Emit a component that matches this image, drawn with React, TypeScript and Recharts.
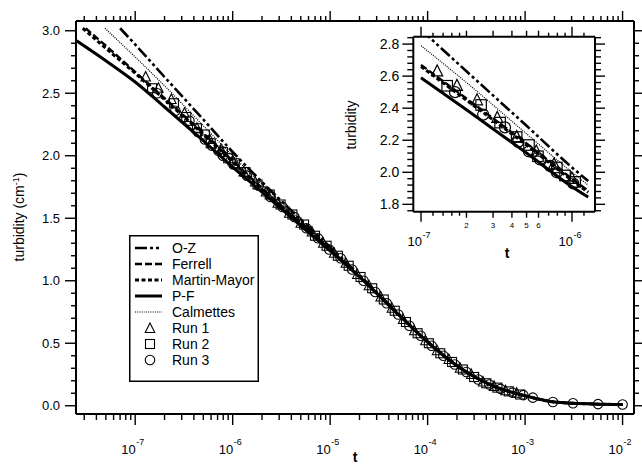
import React from 'react';
import { ComposedChart, Line, Scatter, XAxis, YAxis, Legend } from 'recharts';

const FONT = '"Liberation Sans", Arial, Helvetica, sans-serif';

// ---------------- theory curves (main plot) ----------------
const ozT = [7e-8, 1e-7, 2e-7, 5e-7, 1e-6, 2e-6, 5e-6, 1e-5, 2e-5, 5e-5, 1e-4, 2e-4, 5e-4, 1e-3, 2e-3, 5e-3, 1e-2];
const ozY = [3.02, 2.89, 2.63, 2.29, 2.03, 1.79, 1.49, 1.27, 1.045, 0.74, 0.51, 0.32, 0.15, 0.08, 0.03, 0.014, 0.01];

const ferrellT = [3.1e-8, 5e-8, 1e-7, 2e-7, 5e-7, 1e-6, 2e-6, 5e-6, 1e-5, 2e-5, 5e-5, 1e-4, 2e-4, 5e-4, 1e-3, 2e-3, 5e-3, 1e-2];
const ferrellY = [3.02, 2.88, 2.67, 2.46, 2.18, 1.96, 1.74, 1.46, 1.25, 1.035, 0.73, 0.51, 0.32, 0.15, 0.08, 0.03, 0.014, 0.01];

const mmT = [2.9e-8, 5e-8, 1e-7, 2e-7, 5e-7, 1e-6, 2e-6, 5e-6, 1e-5, 2e-5, 5e-5, 1e-4, 2e-4, 5e-4, 1e-3, 2e-3, 5e-3, 1e-2];
const mmY = [3.02, 2.86, 2.66, 2.45, 2.17, 1.95, 1.73, 1.46, 1.25, 1.035, 0.73, 0.51, 0.32, 0.15, 0.08, 0.03, 0.014, 0.01];

const pfT = [2.5e-8, 5e-8, 1e-7, 2e-7, 5e-7, 1e-6, 2e-6, 5e-6, 1e-5, 2e-5, 5e-5, 1e-4, 2e-4, 5e-4, 1e-3, 2e-3, 5e-3, 1e-2];
const pfY = [2.92, 2.76, 2.59, 2.39, 2.12, 1.91, 1.71, 1.44, 1.24, 1.03, 0.73, 0.51, 0.32, 0.15, 0.08, 0.03, 0.014, 0.01];

const calT = [4.9e-8, 1e-7, 2e-7, 5e-7, 1e-6, 2e-6, 5e-6, 1e-5, 2e-5, 5e-5, 1e-4, 2e-4, 5e-4, 1e-3, 2e-3, 5e-3, 1e-2];
const calY = [3.02, 2.79, 2.56, 2.24, 2.0, 1.77, 1.48, 1.26, 1.04, 0.735, 0.51, 0.32, 0.15, 0.08, 0.03, 0.014, 0.01];

// ---------------- theory curves (inset) ----------------
const insetT = [1e-7, 2e-7, 5e-7, 1e-6, 1.28e-6];
const insetOZ = [2.89, 2.63, 2.29, 2.03, 1.945];
const insetFerrell = [2.67, 2.46, 2.18, 1.96, 1.885];
const insetMM = [2.66, 2.45, 2.17, 1.95, 1.875];
const insetPF = [2.59, 2.39, 2.12, 1.91, 1.845];
const insetCal = [2.79, 2.56, 2.24, 2.0, 1.92];

// ---------------- measured runs ----------------
const run1T = [1.28e-7, 1.73e-7, 2.35e-7, 3.2e-7, 4.3e-7, 5.8e-7, 7.6e-7, 1.0e-6, 1.3e-6, 1.7e-6, 2.2e-6, 2.9e-6, 3.8e-6, 5.0e-6, 6.5e-6, 8.5e-6, 1.1e-5, 1.45e-5, 1.9e-5, 2.5e-5, 3.3e-5, 4.3e-5, 5.6e-5, 7.3e-5, 9.5e-5, 1.25e-4, 1.65e-4, 2.15e-4, 2.8e-4, 3.7e-4, 4.8e-4, 6.3e-4, 8.2e-4];
const run1Y = [2.63, 2.54, 2.45, 2.34, 2.22, 2.13, 2.05, 1.96, 1.87, 1.79, 1.71, 1.62, 1.54, 1.46, 1.39, 1.3, 1.22, 1.14, 1.05, 0.96, 0.87, 0.78, 0.69, 0.6, 0.52, 0.44, 0.37, 0.3, 0.25, 0.19, 0.155, 0.12, 0.1];

const run2T = [1.49e-7, 2.5e-7, 3.34e-7, 4.3e-7, 5.19e-7, 5.95e-7, 7.94e-7, 8.99e-7, 1.05e-6, 1.35e-6, 1.8e-6, 2.4e-6, 3.1e-6, 4.1e-6, 5.4e-6, 7.0e-6, 9.2e-6, 1.2e-5, 1.55e-5, 2.05e-5, 2.7e-5, 3.55e-5, 4.6e-5, 6.0e-5, 7.9e-5, 1.03e-4, 1.35e-4, 1.78e-4, 2.3e-4, 3.0e-4, 4.0e-4, 5.2e-4, 6.8e-4, 8.9e-4];
const run2Y = [2.54, 2.42, 2.31, 2.22, 2.17, 2.1, 2.03, 1.98, 1.94, 1.87, 1.77, 1.69, 1.61, 1.53, 1.45, 1.36, 1.28, 1.2, 1.12, 1.03, 0.94, 0.85, 0.76, 0.67, 0.58, 0.5, 0.42, 0.35, 0.29, 0.23, 0.18, 0.145, 0.115, 0.09];

const run3T = [1.68e-7, 2.58e-7, 3.6e-7, 4.4e-7, 5.19e-7, 6.14e-7, 7.14e-7, 7.94e-7, 1.02e-6, 1.4e-6, 1.85e-6, 2.45e-6, 3.25e-6, 4.3e-6, 5.7e-6, 7.5e-6, 9.8e-6, 1.28e-5, 1.68e-5, 2.2e-5, 2.9e-5, 3.8e-5, 5.0e-5, 6.5e-5, 8.5e-5, 1.1e-4, 1.45e-4, 1.9e-4, 2.5e-4, 3.3e-4, 4.3e-4, 5.6e-4, 7.4e-4, 9.6e-4, 1.2e-3, 1.93e-3, 3.1e-3, 5.6e-3, 1.0e-2];
const run3Y = [2.5, 2.36, 2.28, 2.19, 2.13, 2.08, 2.04, 2.0, 1.93, 1.84, 1.76, 1.67, 1.59, 1.51, 1.42, 1.34, 1.25, 1.18, 1.09, 1.0, 0.91, 0.82, 0.73, 0.64, 0.56, 0.48, 0.4, 0.33, 0.27, 0.21, 0.17, 0.135, 0.105, 0.085, 0.065, 0.03, 0.02, 0.013, 0.01];

// ---------------- axes / ticks ----------------
const X_DOMAIN = [2.47e-8, 1.31e-2];
const Y_DOMAIN = [-0.066, 3.078];
const xDecades = [-8, -7, -6, -5, -4, -3];
const xMultipliers = [1, 2, 3, 4, 5, 6, 7, 8, 9];
const mainXTicks = [
  ...xDecades.flatMap((d) => xMultipliers.map((m) => m * Math.pow(10, d))).filter((v) => v >= X_DOMAIN[0]),
  1e-2,
];
const mainYTicks = Array.from({ length: 31 }, (_, i) => Math.round(i) / 10);

const INSET_X_DOMAIN = [8.89e-8, 1.42e-6];
const INSET_Y_DOMAIN = [1.754, 2.846];
const insetXTicks = [1e-7, 1.2e-7, 1.4e-7, 1.6e-7, 1.8e-7, 2e-7, 3e-7, 4e-7, 5e-7, 6e-7, 7e-7, 8e-7, 9e-7, 1e-6, 1.2e-6];
const insetXSmallLabels = [2, 3, 4, 5, 6];
const insetYTicks = Array.from({ length: 28 }, (_, i) => Math.round((1.76 + i * 0.04) * 100) / 100);

// ---------------- legend ----------------
const legendNames = ['O-Z', 'Ferrell', 'Martin-Mayor', 'P-F', 'Calmettes', 'Run 1', 'Run 2', 'Run 3'];

const zip = (ts: number[], ys: number[]) => ts.map((t, i) => ({ t, y: ys[i] }));

const lineStyle: Record<string, { dash?: string; w: number }> = {
  'O-Z': { dash: '12 3 3 3 3 3', w: 2.6 },
  Ferrell: { dash: '7 3', w: 2.4 },
  'Martin-Mayor': { dash: '4 2.5', w: 3 },
  'P-F': { w: 3 },
  Calmettes: { dash: '1 1.2', w: 1.2 },
};

const mant = (v: number) => {
  const e = Math.floor(Math.log10(v) + 1e-9);
  const m = Math.round((v / Math.pow(10, e)) * 10) / 10;
  return { e, m };
};

// ---------------- marker shapes ----------------
const triangle = (cx: number, cy: number, s: number, sw: number) => (
  <polygon
    points={`${cx},${cy - s * 0.58} ${cx + s / 2},${cy + s * 0.42} ${cx - s / 2},${cy + s * 0.42}`}
    fill="none"
    stroke="#000"
    strokeWidth={sw}
  />
);
const square = (cx: number, cy: number, s: number, sw: number) => (
  <rect x={cx - s / 2} y={cy - s / 2} width={s} height={s} fill="none" stroke="#000" strokeWidth={sw} />
);
const circle = (cx: number, cy: number, s: number, sw: number) => (
  <circle cx={cx} cy={cy} r={s / 2} fill="none" stroke="#000" strokeWidth={sw} />
);

// ---------------- tick renderers ----------------
const TS = 1.4;

const MainXBottom = (p: any) => {
  const { x, y, payload } = p;
  const { e, m } = mant(payload.value);
  const major = m === 1;
  return (
    <g>
      <line x1={x} x2={x} y1={y} y2={y + (major ? 11 : 6)} stroke="#000" strokeWidth={TS} />
      {major && (
        <g fontFamily={FONT} fill="#000">
          <text x={x + 0.5} y={y + 40} textAnchor="end" fontSize={13}>10</text>
          <text x={x + 1} y={y + 31} textAnchor="start" fontSize={9}>{`${e}`}</text>
        </g>
      )}
    </g>
  );
};
const MainXTop = (p: any) => {
  const { x, y, payload } = p;
  const { m } = mant(payload.value);
  const major = m === 1;
  return <line x1={x} x2={x} y1={y} y2={y - (major ? 10 : 5)} stroke="#000" strokeWidth={TS} />;
};
const isHalf = (v: number) => Math.abs(v * 2 - Math.round(v * 2)) < 1e-6;
const MainYLeft = (p: any) => {
  const { x, y, payload } = p;
  const v = payload.value;
  const major = isHalf(v);
  return (
    <g>
      <line x1={x - (major ? 11 : 5)} x2={x} y1={y} y2={y} stroke="#000" strokeWidth={TS} />
      {major && (
        <text x={x - 16} y={y} dy="0.36em" textAnchor="end" fontSize={13} fontFamily={FONT} fill="#000">
          {v.toFixed(1)}
        </text>
      )}
    </g>
  );
};
const MainYRight = (p: any) => {
  const { x, y, payload } = p;
  const major = isHalf(payload.value);
  return <line x1={x} x2={x + (major ? 11 : 5)} y1={y} y2={y} stroke="#000" strokeWidth={TS} />;
};

const InsetXBottom = (p: any) => {
  const { x, y, payload } = p;
  const { e, m } = mant(payload.value);
  const major = m === 1;
  const small = insetXSmallLabels.includes(m);
  return (
    <g>
      <line x1={x} x2={x} y1={y} y2={y + (major ? 10 : small ? 6 : 4)} stroke="#000" strokeWidth={TS} />
      {major && (
        <g fontFamily={FONT} fill="#000">
          <text x={x + 1} y={y + 34} textAnchor="end" fontSize={13}>10</text>
          <text x={x + 1.5} y={y + 26} textAnchor="start" fontSize={9}>{`${e}`}</text>
        </g>
      )}
      {small && (
        <text x={x} y={y + 16.5} textAnchor="middle" fontSize={8} fontFamily={FONT} fill="#000">
          {m}
        </text>
      )}
    </g>
  );
};
const InsetXTop = (p: any) => {
  const { x, y, payload } = p;
  const { m } = mant(payload.value);
  const major = m === 1;
  const small = insetXSmallLabels.includes(m);
  return <line x1={x} x2={x} y1={y} y2={y - (major ? 10 : small ? 6 : 4)} stroke="#000" strokeWidth={TS} />;
};
const isFifth = (v: number) => Math.abs(v * 5 - Math.round(v * 5)) < 1e-6;
const InsetYLeft = (p: any) => {
  const { x, y, payload } = p;
  const v = payload.value;
  const major = isFifth(v);
  return (
    <g>
      <line x1={x - (major ? 11 : 6)} x2={x} y1={y} y2={y} stroke="#000" strokeWidth={TS} />
      {major && (
        <text x={x - 14} y={y} dy="0.36em" textAnchor="end" fontSize={14} fontFamily={FONT} fill="#000">
          {v.toFixed(1)}
        </text>
      )}
    </g>
  );
};
const InsetYRight = (p: any) => {
  const { x, y, payload } = p;
  const major = isFifth(payload.value);
  return <line x1={x} x2={x + (major ? 10 : 6)} y1={y} y2={y} stroke="#000" strokeWidth={TS} />;
};

// ---------------- legend ----------------
const renderLegend = () => (
  <svg width={130} height={147} style={{ display: 'block' }}>
    <rect x={0.75} y={0.75} width={128.5} height={145.5} fill="#fff" stroke="#000" strokeWidth={1.5} />
    {legendNames.map((name, i) => {
      const cy = 13 + i * 16;
      const st = lineStyle[name];
      let sym: React.ReactNode = null;
      if (st) {
        sym = <line x1={6} x2={33} y1={cy} y2={cy} stroke="#000" strokeWidth={st.w} strokeDasharray={st.dash} />;
      } else if (name === 'Run 1') sym = triangle(21, cy + 0.5, 9.5, 1.1);
      else if (name === 'Run 2') sym = square(21, cy, 9, 1.1);
      else sym = circle(21, cy, 9.5, 1.1);
      return (
        <g key={name}>
          {sym}
          <text x={43} y={cy + 5} fontSize={14} fontFamily={FONT} fill="#000">
            {name}
          </text>
        </g>
      );
    })}
  </svg>
);

const AXIS_LINE = { stroke: '#000', strokeWidth: 2 };

export default function App() {
  const inInset = (d: { t: number }) => d.t >= 1.2e-7 && d.t <= 1.1e-6;
  const r1 = zip(run1T, run1Y);
  const r2 = zip(run2T, run2Y);
  const r3 = zip(run3T, run3Y);
  return (
    <div style={{ position: 'absolute', left: 0, top: 0, width: 642, height: 466, background: '#fff' }}>
      <ComposedChart width={642} height={466} margin={{ top: 0, right: 0, bottom: 0, left: 0 }}>
        <XAxis
          xAxisId="b"
          orientation="bottom"
          dataKey="t"
          type="number"
          scale="log"
          domain={X_DOMAIN}
          allowDataOverflow
          ticks={mainXTicks}
          interval={0}
          height={52}
          tickSize={0}
          tickMargin={0}
          tickLine={false}
          axisLine={AXIS_LINE}
          tick={<MainXBottom />}
          label={{
            content: () => (
              <text x={355} y={462} textAnchor="middle" fontSize={14} fontWeight="bold" fontFamily={FONT} fill="#000">
                t
              </text>
            ),
          }}
        />
        <XAxis
          xAxisId="t"
          orientation="top"
          dataKey="t"
          type="number"
          scale="log"
          domain={X_DOMAIN}
          allowDataOverflow
          ticks={mainXTicks}
          interval={0}
          height={21}
          tickSize={0}
          tickMargin={0}
          tickLine={false}
          axisLine={AXIS_LINE}
          tick={<MainXTop />}
        />
        <YAxis
          yAxisId="l"
          orientation="left"
          dataKey="y"
          type="number"
          domain={Y_DOMAIN}
          allowDataOverflow
          ticks={mainYTicks}
          interval={0}
          width={76}
          tickSize={0}
          tickMargin={0}
          tickLine={false}
          axisLine={AXIS_LINE}
          tick={<MainYLeft />}
          label={{
            content: () => (
              <text transform="translate(23.5,217) rotate(-90)" textAnchor="middle" fontSize={14} fontFamily={FONT} fill="#000">
                turbidity (cm
                <tspan dy={-5} fontSize={9}>-1</tspan>
                <tspan dy={5}>)</tspan>
              </text>
            ),
          }}
        />
        <YAxis
          yAxisId="r"
          orientation="right"
          dataKey="y"
          type="number"
          domain={Y_DOMAIN}
          allowDataOverflow
          ticks={mainYTicks}
          interval={0}
          width={8}
          tickSize={0}
          tickMargin={0}
          tickLine={false}
          axisLine={AXIS_LINE}
          tick={<MainYRight />}
        />
        <Scatter xAxisId="b" yAxisId="l" data={r1} isAnimationActive={false} shape={(p: any) => triangle(p.cx, p.cy, 9.5, 1.1)} />
        <Scatter xAxisId="b" yAxisId="l" data={r2} isAnimationActive={false} shape={(p: any) => square(p.cx, p.cy, 9, 1.1)} />
        <Scatter xAxisId="b" yAxisId="l" data={r3} isAnimationActive={false} shape={(p: any) => circle(p.cx, p.cy, 9.5, 1.1)} />
        <Line xAxisId="b" yAxisId="l" data={zip(calT, calY)} dataKey="y" type="monotone" stroke="#000" strokeWidth={lineStyle.Calmettes.w} strokeDasharray={lineStyle.Calmettes.dash} dot={false} activeDot={false} isAnimationActive={false} />
        <Line xAxisId="b" yAxisId="l" data={zip(ozT, ozY)} dataKey="y" type="monotone" stroke="#000" strokeWidth={lineStyle['O-Z'].w} strokeDasharray={lineStyle['O-Z'].dash} dot={false} activeDot={false} isAnimationActive={false} />
        <Line xAxisId="b" yAxisId="l" data={zip(ferrellT, ferrellY)} dataKey="y" type="monotone" stroke="#000" strokeWidth={lineStyle.Ferrell.w} strokeDasharray={lineStyle.Ferrell.dash} dot={false} activeDot={false} isAnimationActive={false} />
        <Line xAxisId="b" yAxisId="l" data={zip(mmT, mmY)} dataKey="y" type="monotone" stroke="#000" strokeWidth={lineStyle['Martin-Mayor'].w} strokeDasharray={lineStyle['Martin-Mayor'].dash} dot={false} activeDot={false} isAnimationActive={false} />
        <Line xAxisId="b" yAxisId="l" data={zip(pfT, pfY)} dataKey="y" type="monotone" stroke="#000" strokeWidth={lineStyle['P-F'].w} dot={false} activeDot={false} isAnimationActive={false} />
        <Legend
          layout="vertical"
          align="center"
          verticalAlign="middle"
          content={renderLegend}
          wrapperStyle={{ left: 129, top: 235, width: 130, height: 147 }}
        />
      </ComposedChart>

      <div style={{ position: 'absolute', left: 340, top: 20 }}>
        <ComposedChart width={270} height={250} margin={{ top: 0, right: 0, bottom: 0, left: 0 }}>
          <XAxis
            xAxisId="b"
            orientation="bottom"
            dataKey="t"
            type="number"
            scale="log"
            domain={INSET_X_DOMAIN}
            allowDataOverflow
            ticks={insetXTicks}
            interval={0}
            height={58.3}
            tickSize={0}
            tickMargin={0}
            tickLine={false}
            axisLine={AXIS_LINE}
            tick={<InsetXBottom />}
            label={{
              content: () => (
                <text x={167} y={238} textAnchor="middle" fontSize={14} fontWeight="bold" fontFamily={FONT} fill="#000">
                  t
                </text>
              ),
            }}
          />
          <XAxis
            xAxisId="t"
            orientation="top"
            dataKey="t"
            type="number"
            scale="log"
            domain={INSET_X_DOMAIN}
            allowDataOverflow
            ticks={insetXTicks}
            interval={0}
            height={16.7}
            tickSize={0}
            tickMargin={0}
            tickLine={false}
            axisLine={AXIS_LINE}
            tick={<InsetXTop />}
          />
          <YAxis
            yAxisId="l"
            orientation="left"
            dataKey="y"
            type="number"
            domain={INSET_Y_DOMAIN}
            allowDataOverflow
            ticks={insetYTicks}
            interval={0}
            width={73.3}
            tickSize={0}
            tickMargin={0}
            tickLine={false}
            axisLine={AXIS_LINE}
            tick={<InsetYLeft />}
            label={{
              content: () => (
                <text transform="translate(16,105) rotate(-90)" textAnchor="middle" fontSize={14} fontFamily={FONT} fill="#000">
                  turbidity
                </text>
              ),
            }}
          />
          <YAxis
            yAxisId="r"
            orientation="right"
            dataKey="y"
            type="number"
            domain={INSET_Y_DOMAIN}
            allowDataOverflow
            ticks={insetYTicks}
            interval={0}
            width={15}
            tickSize={0}
            tickMargin={0}
            tickLine={false}
            axisLine={AXIS_LINE}
            tick={<InsetYRight />}
          />
          <Scatter xAxisId="b" yAxisId="l" data={r1.filter(inInset)} isAnimationActive={false} shape={(p: any) => triangle(p.cx, p.cy, 11, 1.2)} />
          <Scatter xAxisId="b" yAxisId="l" data={r2.filter(inInset)} isAnimationActive={false} shape={(p: any) => square(p.cx, p.cy, 10.5, 1.2)} />
          <Scatter xAxisId="b" yAxisId="l" data={r3.filter(inInset)} isAnimationActive={false} shape={(p: any) => circle(p.cx, p.cy, 11, 1.2)} />
          <Line xAxisId="b" yAxisId="l" data={zip(insetT, insetCal)} dataKey="y" type="monotone" stroke="#000" strokeWidth={lineStyle.Calmettes.w} strokeDasharray={lineStyle.Calmettes.dash} dot={false} activeDot={false} isAnimationActive={false} />
          <Line xAxisId="b" yAxisId="l" data={zip(insetT, insetOZ)} dataKey="y" type="monotone" stroke="#000" strokeWidth={lineStyle['O-Z'].w} strokeDasharray={lineStyle['O-Z'].dash} dot={false} activeDot={false} isAnimationActive={false} />
          <Line xAxisId="b" yAxisId="l" data={zip(insetT, insetFerrell)} dataKey="y" type="monotone" stroke="#000" strokeWidth={lineStyle.Ferrell.w} strokeDasharray={lineStyle.Ferrell.dash} dot={false} activeDot={false} isAnimationActive={false} />
          <Line xAxisId="b" yAxisId="l" data={zip(insetT, insetMM)} dataKey="y" type="monotone" stroke="#000" strokeWidth={lineStyle['Martin-Mayor'].w} strokeDasharray={lineStyle['Martin-Mayor'].dash} dot={false} activeDot={false} isAnimationActive={false} />
          <Line xAxisId="b" yAxisId="l" data={zip(insetT, insetPF)} dataKey="y" type="monotone" stroke="#000" strokeWidth={lineStyle['P-F'].w} dot={false} activeDot={false} isAnimationActive={false} />
        </ComposedChart>
      </div>
    </div>
  );
}
